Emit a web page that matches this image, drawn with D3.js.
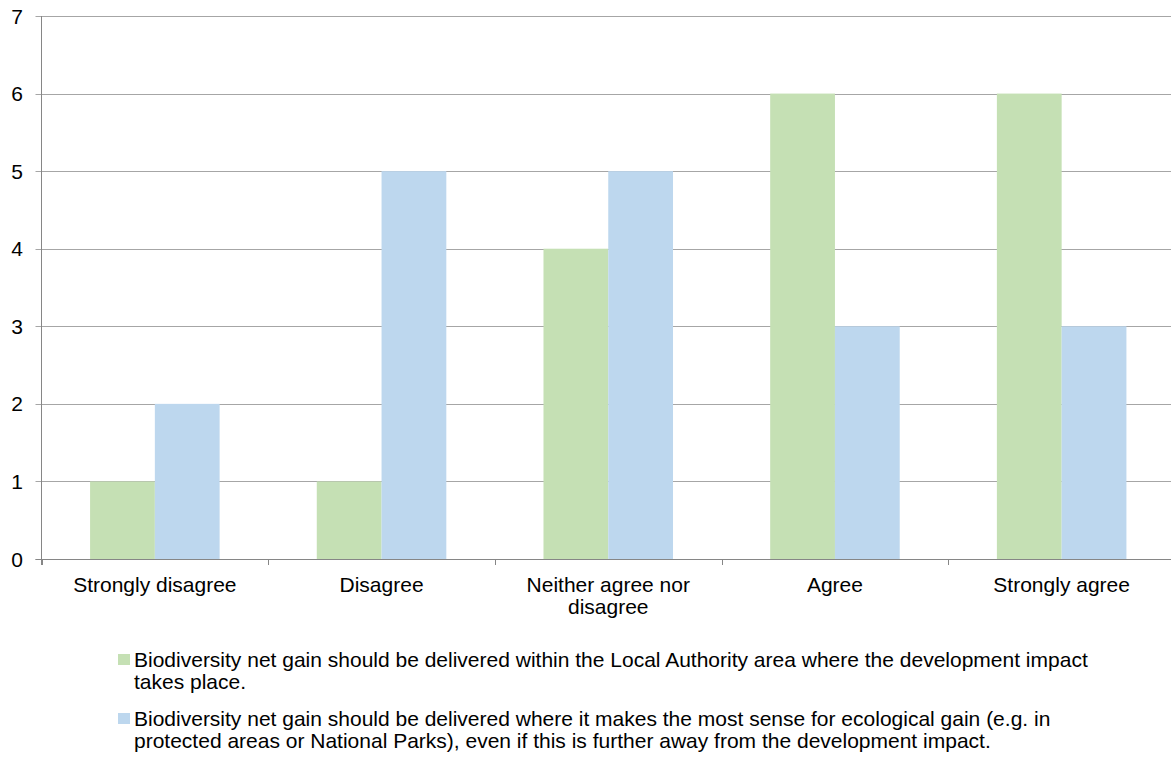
<!DOCTYPE html>
<html><head><meta charset="utf-8">
<script src="https://cdn.jsdelivr.net/npm/d3@7"></script>
<style>body{margin:0;background:#fff}svg{display:block;font-family:"Liberation Sans",Arial,sans-serif}</style>
</head><body><svg id="c" width="1171" height="760"></svg>
<script>
const categories = ["Strongly disagree", "Disagree", "Neither agree nor disagree", "Agree", "Strongly agree"];
const categoryLines = [["Strongly disagree"], ["Disagree"], ["Neither agree nor", "disagree"], ["Agree"], ["Strongly agree"]];
const localAuthority = [1, 1, 4, 6, 6];
const ecologicalGain = [2, 5, 5, 3, 3];
const yTicks = [0, 1, 2, 3, 4, 5, 6, 7];
const seriesNames = [
  ["Biodiversity net gain should be delivered within the Local Authority area where the development impact", "takes place."],
  ["Biodiversity net gain should be delivered where it makes the most sense for ecological gain (e.g. in", "protected areas or National Parks), even if this is further away from the development impact."]
];
const colors = ["#c5e0b4", "#bdd7ee"];

(function () {
const svg = d3.select("#c");
const mLeft = 41.5, mRight = 1175, mTop = 16, mBottom = 559;
const fs = 21;
const x = d3.scaleBand().domain(categories).range([mLeft, mRight]).paddingInner(0).paddingOuter(0);
const y = d3.scaleLinear().domain([0, 7]).range([mBottom, mTop]);
const sub = d3.scaleBand().domain([0, 1]).range([0, x.bandwidth()]).paddingOuter(0.75).paddingInner(0);

svg.append("g").selectAll("line").data(yTicks).join("line")
  .attr("x1", mLeft - 6).attr("x2", 1171)
  .attr("y1", d => Math.round(y(d)) + 0.5).attr("y2", d => Math.round(y(d)) + 0.5)
  .attr("stroke", "#a6a6a6").attr("stroke-width", 1);

const series = [localAuthority, ecologicalGain];
series.forEach((vals, si) => {
  svg.append("g").selectAll("rect").data(vals).join("rect")
    .attr("x", (d, i) => x(categories[i]) + sub(si))
    .attr("width", sub.bandwidth())
    .attr("y", d => y(d))
    .attr("height", d => y(0) - y(d))
    .attr("fill", colors[si]);
});

svg.append("line").attr("x1", mLeft).attr("x2", mLeft).attr("y1", mTop).attr("y2", mBottom + 6)
  .attr("stroke", "#868686");
svg.append("line").attr("x1", mLeft - 6).attr("x2", 1171).attr("y1", Math.round(y(0)) + 0.5).attr("y2", Math.round(y(0)) + 0.5)
  .attr("stroke", "#868686");
const xt = categories.map(c => x(c)).concat([mRight]);
svg.append("g").selectAll("line").data(xt).join("line")
  .attr("x1", d => Math.round(d) + 0.5).attr("x2", d => Math.round(d) + 0.5)
  .attr("y1", mBottom).attr("y2", mBottom + 6).attr("stroke", "#868686");

svg.append("g").selectAll("text").data(yTicks).join("text")
  .attr("x", 23).attr("y", d => y(d) + 7.5)
  .attr("text-anchor", "end").attr("font-size", fs).attr("fill", "#000").text(d => d);

categories.forEach((c, i) => {
  const t = svg.append("text").attr("text-anchor", "middle").attr("font-size", fs).attr("fill", "#000");
  categoryLines[i].forEach((ln, k) => {
    t.append("tspan").attr("x", x(c) + x.bandwidth() / 2).attr("y", 592 + k * 22).text(ln);
  });
});

const legY = [667, 726];
seriesNames.forEach((lines, si) => {
  svg.append("rect").attr("x", 118).attr("y", legY[si] - 13).attr("width", 12).attr("height", 11).attr("fill", colors[si]);
  const t = svg.append("text").attr("font-size", fs).attr("fill", "#000");
  lines.forEach((ln, k) => t.append("tspan").attr("x", 134).attr("y", legY[si] + k * 22).text(ln));
});
})();
</script></body></html>
